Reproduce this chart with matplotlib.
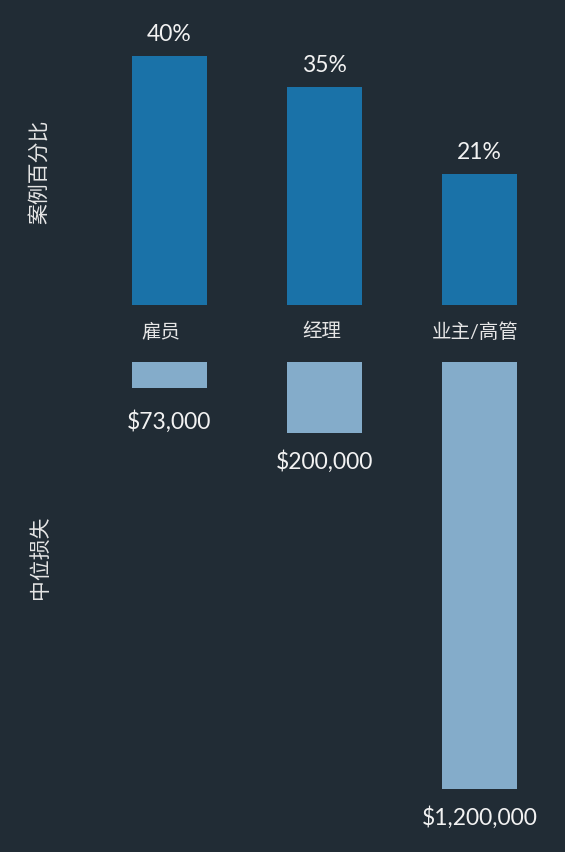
import matplotlib.pyplot as plt

# data
roles = ['雇员', '经理', '业主/高管']
case_pct = [40, 35, 21]
median_loss = [73000, 200000, 1200000]

bg = '#212c35'
top_color = '#1a72a8'
bottom_color = '#84acca'
text_color = '#f2f2f2'

plt.rcParams['font.family'] = ['Lato', 'Noto Sans CJK SC', 'DejaVu Sans']

W, H = 565, 853
fig = plt.figure(figsize=(W / 100, H / 100), dpi=100, facecolor=bg)


def px_axes(left, top, right, bottom):
    return fig.add_axes([left / W, 1 - bottom / H, (right - left) / W, (bottom - top) / H])


x = list(range(len(roles)))
bar_w = 0.484

# top panel: share of cases
ax1 = px_axes(92, 26, 557, 305.5)
ax1.set_facecolor(bg)
ax1.bar(x, case_pct, width=bar_w, color=top_color)
ax1.set_xlim(-0.5, 2.5)
ax1.set_ylim(0, 45)
for xi, v in zip(x, case_pct):
    ax1.annotate(f'{v}%', (xi, v), xytext=(0, 23), textcoords='offset pixels',
                 ha='center', va='center', fontsize=16.5, color=text_color)
for xi, r, dx in zip(x, roles, [-9, -3, -4]):
    ax1.annotate(r, (xi, 0), xytext=(dx, -26), textcoords='offset pixels',
                 ha='center', va='center', fontsize=14, color='#e6e6e6',
                 annotation_clip=False)
ax1.axis('off')

# bottom panel: median loss, hanging down
ax2 = px_axes(92, 362.5, 557, 840.5)
ax2.set_facecolor(bg)
ax2.bar(x, median_loss, width=bar_w, color=bottom_color)
ax2.set_xlim(-0.5, 2.5)
ax2.set_ylim(1342000, 0)
for xi, v in zip(x, median_loss):
    ax2.annotate(f'${v:,}', (xi, v), xytext=(0, -33 if v < 100000 else -28),
                 textcoords='offset pixels', ha='center', va='center',
                 fontsize=16.5, color=text_color, annotation_clip=False)
ax2.axis('off')

fig.text(40 / W, 1 - 172 / H, '案例百分比', rotation=90, ha='center', va='center',
         fontsize=15, color='#e6e6e6')
fig.text(40 / W, 1 - 557 / H, '中位损失', rotation=90, ha='center', va='center',
         fontsize=15, color='#e6e6e6')

fig.savefig('out.png', dpi=100, facecolor=bg)
